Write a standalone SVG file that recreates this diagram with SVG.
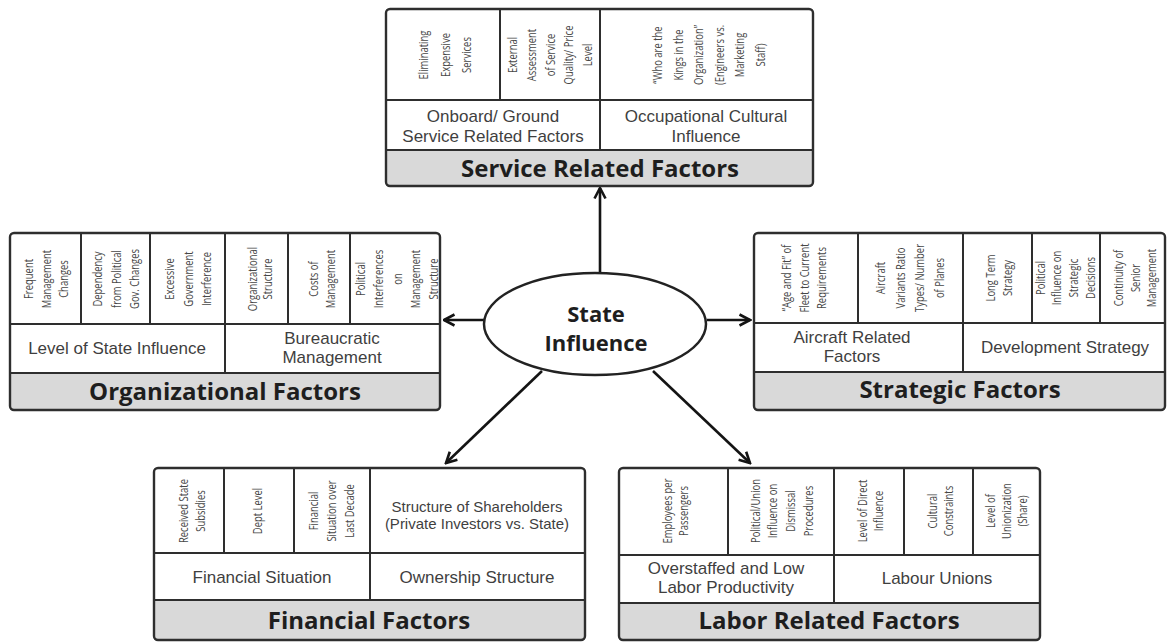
<svg xmlns="http://www.w3.org/2000/svg" width="1167" height="643" viewBox="0 0 1167 643">
  <style>
    .frame { fill: none; stroke: #2e2e2e; stroke-width: 2.4; }
    .cell { fill: #ffffff; }
    .band { fill: #d9d9d9; }
    .ln { stroke: #2e2e2e; stroke-width: 2; fill: none; }
    .vt { font-family: "Open Sans", "Liberation Sans", sans-serif; font-size: 13.5px; fill: #474747; text-anchor: middle; }
    .mt { font-family: "Liberation Sans", Arial, sans-serif; font-size: 17px; fill: #3f3f3f; text-anchor: middle; }
    .st { font-family: "Liberation Sans", Arial, sans-serif; font-size: 15px; fill: #3f3f3f; text-anchor: middle; }
    .tt { font-family: "Open Sans", "Liberation Sans", sans-serif; font-size: 24px; font-weight: bold; fill: #1e1e1e; text-anchor: middle; }
    .ct { font-family: "Open Sans", "Liberation Sans", sans-serif; font-size: 22px; font-weight: bold; fill: #1e1e1e; text-anchor: middle; }
    .arrow { stroke: #141414; stroke-width: 2.6; fill: none; marker-end: url(#head); }
  </style>
  <defs>
    <marker id="head" viewBox="0 0 14 14" refX="12.5" refY="7" markerWidth="14" markerHeight="14" markerUnits="userSpaceOnUse" orient="auto">
      <path d="M2,1.5 L12.5,7 L2,12.5" fill="none" stroke="#141414" stroke-width="2.6" stroke-linejoin="miter"/>
    </marker>
  </defs>

  <rect width="1167" height="643" fill="#ffffff"/>

  <!-- connectors from the centre ellipse -->
  <g id="connectors">
    <line class="arrow" x1="600" y1="273" x2="600" y2="188"/>
    <line class="arrow" x1="484" y1="320" x2="444" y2="320"/>
    <line class="arrow" x1="707" y1="320" x2="750" y2="320"/>
    <line class="arrow" x1="542" y1="371" x2="446" y2="463"/>
    <line class="arrow" x1="653" y1="371" x2="750" y2="463"/>
  </g>

  <!-- centre -->
  <g id="state-influence">
    <ellipse cx="595" cy="324" rx="111" ry="51" fill="#ffffff" stroke="#222" stroke-width="2.5"/>
    <text class="ct" x="596" y="322">State</text>
    <text class="ct" x="596" y="351">Influence</text>
  </g>

  <!-- top: service related factors -->
  <g id="service-related-factors">
    <rect class="cell" x="386" y="9" width="427" height="141"/>
    <rect class="band" x="386" y="150" width="427" height="36"/>
    <line class="ln" x1="386" y1="100" x2="813" y2="100"/>
    <line class="ln" x1="386" y1="150" x2="813" y2="150"/>
    <line class="ln" x1="500" y1="9" x2="500" y2="100"/>
    <line class="ln" x1="600" y1="9" x2="600" y2="150"/>
    <rect class="frame" x="386" y="9" width="427" height="177" rx="4"/>
    <text class="vt" transform="translate(445,55) rotate(-90) scale(0.7,1)"><tspan x="0" y="-17">Eliminating</tspan><tspan x="0" y="4.5">Expensive</tspan><tspan x="0" y="26">Services</tspan></text>
    <text class="vt" transform="translate(550,55) rotate(-90) scale(0.7,1)"><tspan x="0" y="-33.5">External</tspan><tspan x="0" y="-14.5">Assessment</tspan><tspan x="0" y="4.5">of Service</tspan><tspan x="0" y="23.5">Quality/ Price</tspan><tspan x="0" y="42.5">Level</tspan></text>
    <text class="vt" transform="translate(709,55) rotate(-90) scale(0.7,1)"><tspan x="0" y="-46.75">“Who are the</tspan><tspan x="0" y="-26.25">Kings in the</tspan><tspan x="0" y="-5.75">Organization”</tspan><tspan x="0" y="14.75">(Engineers vs.</tspan><tspan x="0" y="35.25">Marketing</tspan><tspan x="0" y="55.75">Staff)</tspan></text>
    <text class="mt" x="493" y="122">Onboard/ Ground</text>
    <text class="mt" x="493" y="141.5">Service Related Factors</text>
    <text class="mt" x="706" y="122">Occupational Cultural</text>
    <text class="mt" x="706" y="141.5">Influence</text>
    <text class="tt" x="600" y="177">Service Related Factors</text>
  </g>

  <!-- left: organizational factors -->
  <g id="organizational-factors">
    <rect class="cell" x="10" y="233" width="430" height="140"/>
    <rect class="band" x="10" y="373" width="430" height="37"/>
    <line class="ln" x1="10" y1="324" x2="440" y2="324"/>
    <line class="ln" x1="10" y1="373" x2="440" y2="373"/>
    <line class="ln" x1="81" y1="233" x2="81" y2="324"/>
    <line class="ln" x1="150" y1="233" x2="150" y2="324"/>
    <line class="ln" x1="225" y1="233" x2="225" y2="373"/>
    <line class="ln" x1="288" y1="233" x2="288" y2="324"/>
    <line class="ln" x1="350" y1="233" x2="350" y2="324"/>
    <rect class="frame" x="10" y="233" width="430" height="177" rx="4"/>
    <text class="vt" transform="translate(46,279) rotate(-90) scale(0.7,1)"><tspan x="0" y="-13.5">Frequent</tspan><tspan x="0" y="4.5">Management</tspan><tspan x="0" y="22.5">Changes</tspan></text>
    <text class="vt" transform="translate(116,279) rotate(-90) scale(0.7,1)"><tspan x="0" y="-14.5">Dependency</tspan><tspan x="0" y="4.5">from Political</tspan><tspan x="0" y="23.5">Gov. Changes</tspan></text>
    <text class="vt" transform="translate(188,279) rotate(-90) scale(0.7,1)"><tspan x="0" y="-14">Excessive</tspan><tspan x="0" y="4.5">Government</tspan><tspan x="0" y="23">Interference</tspan></text>
    <text class="vt" transform="translate(259.5,279) rotate(-90) scale(0.7,1)"><tspan x="0" y="-3">Organizational</tspan><tspan x="0" y="12">Structure</tspan></text>
    <text class="vt" transform="translate(321.5,279) rotate(-90) scale(0.7,1)"><tspan x="0" y="-4">Costs of</tspan><tspan x="0" y="13">Management</tspan></text>
    <text class="vt" transform="translate(397,279) rotate(-90) scale(0.7,1)"><tspan x="0" y="-32.5">Political</tspan><tspan x="0" y="-14">Interferences</tspan><tspan x="0" y="4.5">on</tspan><tspan x="0" y="23">Management</tspan><tspan x="0" y="41.5">Structure</tspan></text>
    <text class="mt" x="117" y="354">Level of State Influence</text>
    <text class="mt" x="332" y="343.5">Bureaucratic</text>
    <text class="mt" x="332" y="363">Management</text>
    <text class="tt" x="225" y="400">Organizational Factors</text>
  </g>

  <!-- right: strategic factors -->
  <g id="strategic-factors">
    <rect class="cell" x="754" y="233" width="411" height="139"/>
    <rect class="band" x="754" y="372" width="411" height="38"/>
    <line class="ln" x1="754" y1="323" x2="1165" y2="323"/>
    <line class="ln" x1="754" y1="372" x2="1165" y2="372"/>
    <line class="ln" x1="858" y1="233" x2="858" y2="323"/>
    <line class="ln" x1="963" y1="233" x2="963" y2="372"/>
    <line class="ln" x1="1032" y1="233" x2="1032" y2="323"/>
    <line class="ln" x1="1100" y1="233" x2="1100" y2="323"/>
    <rect class="frame" x="754" y="233" width="411" height="177" rx="4"/>
    <text class="vt" transform="translate(804,278) rotate(-90) scale(0.7,1)"><tspan x="0" y="-13">“Age and Fit” of</tspan><tspan x="0" y="4.5">Fleet to Current</tspan><tspan x="0" y="22">Requirements</tspan></text>
    <text class="vt" transform="translate(910,278) rotate(-90) scale(0.7,1)"><tspan x="0" y="-24.75">Aircraft</tspan><tspan x="0" y="-5.25">Variants Ratio</tspan><tspan x="0" y="14.25">Types/ Number</tspan><tspan x="0" y="33.75">of Planes</tspan></text>
    <text class="vt" transform="translate(998.5,278) rotate(-90) scale(0.7,1)"><tspan x="0" y="-4">Long Term</tspan><tspan x="0" y="13">Strategy</tspan></text>
    <text class="vt" transform="translate(1065,278) rotate(-90) scale(0.7,1)"><tspan x="0" y="-20.5">Political</tspan><tspan x="0" y="-3.8">Influence on</tspan><tspan x="0" y="12.9">Strategic</tspan><tspan x="0" y="29.6">Decisions</tspan></text>
    <text class="vt" transform="translate(1135,278) rotate(-90) scale(0.7,1)"><tspan x="0" y="-12.5">Continuity of</tspan><tspan x="0" y="4.5">Senior</tspan><tspan x="0" y="21.5">Management</tspan></text>
    <text class="mt" x="852" y="342.5">Aircraft Related</text>
    <text class="mt" x="852" y="362">Factors</text>
    <text class="mt" x="1065" y="353">Development Strategy</text>
    <text class="tt" x="960" y="398">Strategic Factors</text>
  </g>

  <!-- bottom left: financial factors -->
  <g id="financial-factors">
    <rect class="cell" x="154" y="468" width="431" height="132"/>
    <rect class="band" x="154" y="600" width="431" height="40"/>
    <line class="ln" x1="154" y1="553" x2="585" y2="553"/>
    <line class="ln" x1="154" y1="600" x2="585" y2="600"/>
    <line class="ln" x1="224" y1="468" x2="224" y2="553"/>
    <line class="ln" x1="294" y1="468" x2="294" y2="553"/>
    <line class="ln" x1="370" y1="468" x2="370" y2="600"/>
    <rect class="frame" x="154" y="468" width="431" height="172" rx="4"/>
    <text class="vt" transform="translate(191.5,511) rotate(-90) scale(0.7,1)"><tspan x="0" y="-4">Received State</tspan><tspan x="0" y="13">Subsidies</tspan></text>
    <text class="vt" transform="translate(257,511) rotate(-90) scale(0.7,1)"><tspan x="0" y="4.5">Dept Level</tspan></text>
    <text class="vt" transform="translate(331.5,511) rotate(-90) scale(0.7,1)"><tspan x="0" y="-14">Financial</tspan><tspan x="0" y="4.5">Situation over</tspan><tspan x="0" y="23">Last Decade</tspan></text>
    <text class="st" x="477" y="512">Structure of Shareholders</text>
    <text class="st" x="477" y="529">(Private Investors vs. State)</text>
    <text class="mt" x="262" y="583">Financial Situation</text>
    <text class="mt" x="477" y="583">Ownership Structure</text>
    <text class="tt" x="369" y="629">Financial Factors</text>
  </g>

  <!-- bottom right: labor related factors -->
  <g id="labor-related-factors">
    <rect class="cell" x="619" y="468" width="421" height="135"/>
    <rect class="band" x="619" y="603" width="421" height="37"/>
    <line class="ln" x1="619" y1="555" x2="1040" y2="555"/>
    <line class="ln" x1="619" y1="603" x2="1040" y2="603"/>
    <line class="ln" x1="728" y1="468" x2="728" y2="555"/>
    <line class="ln" x1="834" y1="468" x2="834" y2="603"/>
    <line class="ln" x1="904" y1="468" x2="904" y2="555"/>
    <line class="ln" x1="973" y1="468" x2="973" y2="555"/>
    <rect class="frame" x="619" y="468" width="421" height="172" rx="4"/>
    <text class="vt" transform="translate(675,511) rotate(-90) scale(0.7,1)"><tspan x="0" y="-3.5">Employees per</tspan><tspan x="0" y="12.5">Passengers</tspan></text>
    <text class="vt" transform="translate(781.5,511) rotate(-90) scale(0.7,1)"><tspan x="0" y="-22">Political/Union</tspan><tspan x="0" y="-4.3">Influence on</tspan><tspan x="0" y="13.4">Dismissal</tspan><tspan x="0" y="31.1">Procedures</tspan></text>
    <text class="vt" transform="translate(870,511) rotate(-90) scale(0.7,1)"><tspan x="0" y="-3.5">Level of Direct</tspan><tspan x="0" y="12.5">Influence</tspan></text>
    <text class="vt" transform="translate(940,511) rotate(-90) scale(0.7,1)"><tspan x="0" y="-3.5">Cultural</tspan><tspan x="0" y="12.5">Constraints</tspan></text>
    <text class="vt" transform="translate(1006.5,511) rotate(-90) scale(0.7,1)"><tspan x="0" y="-12">Level of</tspan><tspan x="0" y="4.5">Unionization</tspan><tspan x="0" y="21">(Share)</tspan></text>
    <text class="mt" x="726" y="573.5">Overstaffed and Low</text>
    <text class="mt" x="726" y="593">Labor Productivity</text>
    <text class="mt" x="937" y="584">Labour Unions</text>
    <text class="tt" x="829" y="629">Labor Related Factors</text>
  </g>
</svg>
